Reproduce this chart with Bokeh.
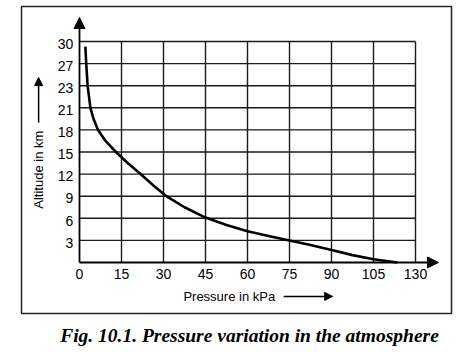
import math
from bokeh.plotting import figure
from bokeh.models import Range1d, Arrow, NormalHead
from bokeh.core.properties import value
from bokeh.embed import file_html
from bokeh.resources import INLINE

# ---- data ----
pressure_kpa = [113.5, 105, 97.5, 90, 82.5, 75, 67.5, 60, 52.5, 45, 37.5, 31, 26.3, 21.8,
                17.2, 13.0, 9.3, 6.6, 5.0, 3.9, 2.9, 2.4, 2.1]
altitude_km = [0.0, 0.45, 1.0, 1.7, 2.38, 3.0, 3.6, 4.25, 5.1, 6.1, 7.5, 9.0, 10.5, 12.0,
               13.5, 15.0, 16.5, 18.0, 19.5, 21.0, 24.0, 27.0, 29.3]

x_ticks = [0, 15, 30, 45, 60, 75, 90, 105, 120]
x_tick_labels = ["0", "15", "30", "45", "60", "75", "90", "105", "130"]
y_ticks = [3, 6, 9, 12, 15, 18, 21, 24, 27, 30]
y_tick_labels = ["3", "6", "9", "12", "15", "18", "21", "23", "27", "30"]

x_title = "Pressure in kPa"
y_title = "Altitude in km"
caption = "Fig. 10.1. Pressure variation in the atmosphere"

FONT = value("Liberation Sans")

p = figure(width=464, height=352, output_backend="svg", toolbar_location=None,
           x_range=Range1d(-28.214, 137.5), y_range=Range1d(-12.217, 35.566),
           x_axis_type=None, y_axis_type=None, min_border=0)
p.grid.visible = False
p.outline_line_color = None
p.background_fill_color = "white"
p.border_fill_color = "white"

# outer frame box
p.quad(left=[-20.71], right=[132.86], bottom=[-6.92], top=[34.75],
       fill_color=None, line_color="#222222", line_width=1.5)

xmax = x_ticks[-1]
ymax = y_ticks[-1]
# grid
p.segment(x0=x_ticks[1:], y0=[0] * (len(x_ticks) - 1), x1=x_ticks[1:], y1=[ymax] * (len(x_ticks) - 1),
          line_color="#1a1a1a", line_width=1.4)
p.segment(x0=[0] * len(y_ticks), y0=y_ticks, x1=[xmax] * len(y_ticks), y1=y_ticks,
          line_color="#1a1a1a", line_width=1.4)

# axes with arrows
p.add_layout(Arrow(x_start=0, y_start=0, x_end=128.2, y_end=0, line_width=1.8, line_color="black",
                   end=NormalHead(size=11, fill_color="black", line_color="black")))
p.add_layout(Arrow(x_start=0, y_start=0, x_end=0, y_end=33.26, line_width=1.8, line_color="black",
                   end=NormalHead(size=11, fill_color="black", line_color="black")))

# curve
p.line(pressure_kpa, altitude_km, line_color="black", line_width=2.6, line_join="round")

# tick labels
p.text(x=x_ticks, y=[-1.6] * len(x_ticks), text=x_tick_labels, text_font=FONT,
       text_font_size="14px", text_align="center", text_baseline="middle", text_color="black")
p.text(x=[-2.2] * len(y_ticks), y=[v - 0.3 for v in y_ticks], text=y_tick_labels, text_font=FONT,
       text_font_size="14px", text_align="right", text_baseline="middle", text_color="black")

# axis titles + arrows
p.text(x=[37.1], y=[-4.6], text=[x_title], text_font=FONT, text_font_size="13px",
       text_align="left", text_baseline="middle", text_color="black")
p.add_layout(Arrow(x_start=72.9, y_start=-4.6, x_end=90.4, y_end=-4.6, line_width=1.5, line_color="black",
                   end=NormalHead(size=8, fill_color="black", line_color="black")))
p.text(x=[-14.6], y=[12.6], text=[y_title], angle=math.pi / 2, text_font=FONT, text_font_size="13px",
       text_align="center", text_baseline="middle", text_color="black")
p.add_layout(Arrow(x_start=-14.6, y_start=19.0, x_end=-14.6, y_end=25.1, line_width=1.5, line_color="black",
                   end=NormalHead(size=8, fill_color="black", line_color="black")))

# caption
p.text(x=[60.7], y=[-9.9], text=[caption], text_font=value("Liberation Serif"), text_font_size="19.5px",
       text_font_style="bold italic", text_align="center", text_baseline="middle", text_color="black")

open("out.html", "w").write(file_html(p, INLINE))
